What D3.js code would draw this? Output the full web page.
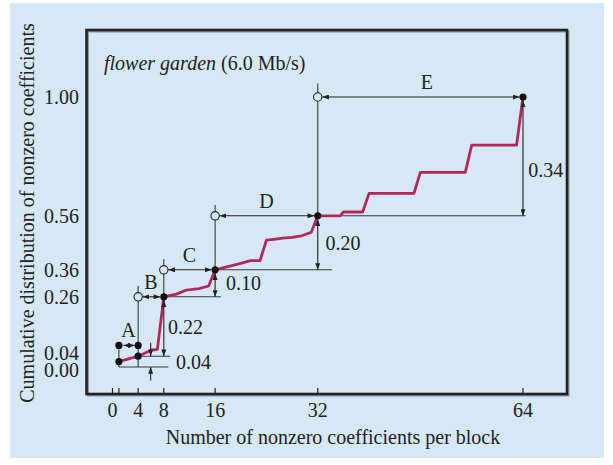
<!DOCTYPE html>
<html>
<head>
<meta charset="utf-8">
<script src="https://cdn.jsdelivr.net/npm/d3@7/dist/d3.min.js"></script>
<style>
  body { margin: 0; background: #fff; }
  text { font-family: "Liberation Serif", "Times New Roman", serif; fill: #222; }
</style>
</head>
<body>
<svg id="chart" width="613" height="465"></svg>
<script>
// Cumulative distribution curve
const coeffs = [1, 4, 6, 7, 8, 10, 11.5, 13.5, 15, 16, 18, 20, 21.5, 23, 24, 25.5, 26.5, 28, 29.5, 31, 32,
                35.5, 36, 39, 40, 47, 48, 55, 56, 63, 64];
const cumul  = [0.02, 0.04, 0.062, 0.065, 0.26, 0.27, 0.285, 0.29, 0.30, 0.36, 0.372, 0.384, 0.394, 0.394, 0.47,
                0.474, 0.477, 0.48, 0.486, 0.499, 0.56, 0.56, 0.574, 0.574, 0.643, 0.643, 0.721, 0.721, 0.822, 0.822, 1.00];

// Axis ticks
const xTicks = [0, 1, 4, 8, 16, 32, 64];
const xTickLabels = [0, 4, 8, 16, 32, 64];
const yTickLabels = [0.00, 0.04, 0.26, 0.36, 0.56, 1.00];

// Interval brackets A..E
const spanNames = ['A', 'B', 'C', 'D', 'E'];
const spanStart = [1, 4, 8, 16, 32];
const spanEnd   = [4, 8, 16, 32, 64];
const spanLevel = [0.08, 0.26, 0.36, 0.56, 1.00];
const spanLabelX = [2.5, 6, 12, 24, 49];
const spanOpen  = [false, true, true, true, true];

// Step heights
const stepLabels = ['0.22', '0.10', '0.20', '0.34'];
const stepX    = [8, 16, 32, 64];
const stepLow  = [0.04, 0.26, 0.36, 0.56];
const stepHigh = [0.26, 0.36, 0.56, 1.00];
const stepLabelX = [8.65, 17.7, 33.2, 64.8];
const stepLabelY = [0.15, 0.31, 0.46, 0.73];

// Guide (extension) lines
const guideHy  = [0.00, 0.04, 0.26, 0.36, 0.56];
const guideHx0 = [1, 4, 8, 16, 32];
const guideHx1 = [8.7, 9.0, 16.9, 34.2, 64.4];
const guideVx  = [1, 4, 8, 16, 32];
const guideVy0 = [0, 0, 0.26, 0.36, 0.56];
const guideVy1 = [0.08, 0.30, 0.40, 0.60, 1.05];

const bg = '#d6e8f6';
const ink = '#222';
const curveColor = '#b2285c';
const fontSize = '20px';

const svg = d3.select('#chart');

// background panel
svg.append('rect')
    .attr('x', 10).attr('y', 3)
    .attr('width', 594).attr('height', 455)
    .attr('fill', bg);

const x = d3.scaleLinear().domain([0, 64]).range([112.5, 523]);
const y = d3.scaleLinear().domain([0, 1]).range([367, 97]);

const frame = { left: 86.5, top: 30, right: 567, bottom: 394 };

// arrow marker
const defs = svg.append('defs');
defs.append('marker')
    .attr('id', 'arrow')
    .attr('viewBox', '0 0 8 6')
    .attr('refX', 8).attr('refY', 3)
    .attr('markerWidth', 7).attr('markerHeight', 5)
    .attr('markerUnits', 'userSpaceOnUse')
    .attr('orient', 'auto-start-reverse')
    .append('path')
    .attr('d', 'M0,0L8,3L0,6Z')
    .attr('fill', ink);

// frame with a faint shadow
svg.append('rect')
    .attr('x', frame.left + 1.5).attr('y', frame.top + 1.5)
    .attr('width', frame.right - frame.left)
    .attr('height', frame.bottom - frame.top)
    .attr('fill', 'none')
    .attr('stroke', '#8a96a0')
    .attr('stroke-width', 2);
svg.append('rect')
    .attr('x', frame.left).attr('y', frame.top)
    .attr('width', frame.right - frame.left)
    .attr('height', frame.bottom - frame.top)
    .attr('fill', 'none')
    .attr('stroke', ink)
    .attr('stroke-width', 2.6);

// x ticks (inside)
svg.append('g')
    .selectAll('line')
    .data(xTicks)
    .join('line')
    .attr('x1', d => x(d)).attr('x2', d => x(d))
    .attr('y1', frame.bottom).attr('y2', frame.bottom - 6)
    .attr('stroke', ink)
    .attr('stroke-width', 1.2);

svg.append('g')
    .selectAll('text')
    .data(xTickLabels)
    .join('text')
    .attr('x', d => x(d))
    .attr('y', 417)
    .attr('text-anchor', 'middle')
    .style('font-size', fontSize)
    .text(d => d);

// y labels: the two bottom ones sit close, spread them a little
svg.append('g')
    .selectAll('text')
    .data(yTickLabels)
    .join('text')
    .attr('x', 79)
    .attr('y', d => y(d) + (d === 0 ? 3 : d === 0.04 ? -3 : 0))
    .attr('dy', '0.35em')
    .attr('text-anchor', 'end')
    .style('font-size', fontSize)
    .text(d => d.toFixed(2));

// axis titles
svg.append('text')
    .attr('x', 333).attr('y', 444)
    .attr('text-anchor', 'middle')
    .style('font-size', fontSize)
    .text('Number of nonzero coefficients per block');

svg.append('text')
    .attr('transform', 'translate(34,213) rotate(-90)')
    .attr('text-anchor', 'middle')
    .style('font-size', fontSize)
    .text('Cumulative distribution of nonzero coefficients');

// title
const title = svg.append('text')
    .attr('x', 104).attr('y', 70)
    .style('font-size', fontSize);
title.append('tspan').style('font-style', 'italic').text('flower garden');
title.append('tspan').text(' (6.0 Mb/s)');

// guide lines
const guides = svg.append('g')
    .attr('stroke', '#3a3a3a')
    .attr('stroke-width', 1.1);
guides.selectAll('.gh')
    .data(guideHy)
    .join('line')
    .attr('class', 'gh')
    .attr('x1', (d, i) => x(guideHx0[i]))
    .attr('x2', (d, i) => x(guideHx1[i]))
    .attr('y1', d => y(d)).attr('y2', d => y(d));
guides.selectAll('.gv')
    .data(guideVx)
    .join('line')
    .attr('class', 'gv')
    .attr('x1', d => x(d)).attr('x2', d => x(d))
    .attr('y1', (d, i) => y(guideVy0[i]))
    .attr('y2', (d, i) => y(guideVy1[i]));

// curve
const line = d3.line()
    .x(d => x(d[0]))
    .y(d => y(d[1]));
svg.append('path')
    .datum(coeffs.map((c, i) => [c, cumul[i]]))
    .attr('d', line)
    .attr('fill', 'none')
    .attr('stroke', curveColor)
    .attr('stroke-width', 2.8)
    .attr('stroke-linejoin', 'round');

// span arrows
const spans = svg.append('g');
spans.selectAll('line')
    .data(spanNames)
    .join('line')
    .attr('x1', (d, i) => x(spanStart[i]) + 4.5)
    .attr('x2', (d, i) => x(spanEnd[i]) - 3.5)
    .attr('y1', (d, i) => y(spanLevel[i]))
    .attr('y2', (d, i) => y(spanLevel[i]))
    .attr('stroke', ink)
    .attr('stroke-width', 1.1)
    .attr('marker-start', 'url(#arrow)')
    .attr('marker-end', 'url(#arrow)');
spans.selectAll('text')
    .data(spanNames)
    .join('text')
    .attr('x', (d, i) => x(spanLabelX[i]))
    .attr('y', (d, i) => y(spanLevel[i]) - 8)
    .attr('text-anchor', 'middle')
    .style('font-size', fontSize)
    .text(d => d);

// step arrows
const steps = svg.append('g');
steps.selectAll('line')
    .data(stepLabels)
    .join('line')
    .attr('x1', (d, i) => x(stepX[i])).attr('x2', (d, i) => x(stepX[i]))
    .attr('y1', (d, i) => y(stepHigh[i]) + 3.5)
    .attr('y2', (d, i) => y(stepLow[i]))
    .attr('stroke', ink)
    .attr('stroke-width', 1.1)
    .attr('marker-start', 'url(#arrow)')
    .attr('marker-end', 'url(#arrow)');
steps.selectAll('text')
    .data(stepLabels)
    .join('text')
    .attr('x', (d, i) => x(stepLabelX[i]))
    .attr('y', (d, i) => y(stepLabelY[i]))
    .attr('dy', '0.35em')
    .style('font-size', fontSize)
    .text(d => d);

// 0.04 step with outside arrows
const smallX = 5.95;
svg.append('line')
    .attr('x1', x(smallX)).attr('x2', x(smallX))
    .attr('y1', y(0.09)).attr('y2', y(0.04))
    .attr('stroke', ink).attr('stroke-width', 1.1)
    .attr('marker-end', 'url(#arrow)');
svg.append('line')
    .attr('x1', x(smallX)).attr('x2', x(smallX))
    .attr('y1', y(-0.05)).attr('y2', y(0))
    .attr('stroke', ink).attr('stroke-width', 1.1)
    .attr('marker-end', 'url(#arrow)');
svg.append('text')
    .attr('x', x(9.9)).attr('y', y(0.02))
    .attr('dy', '0.35em')
    .style('font-size', fontSize)
    .text('0.04');

// open circles at span starts
svg.append('g')
    .selectAll('circle')
    .data(spanNames.filter((d, i) => spanOpen[i]))
    .join('circle')
    .attr('cx', d => x(spanStart[spanNames.indexOf(d)]))
    .attr('cy', d => y(spanLevel[spanNames.indexOf(d)]))
    .attr('r', 4.2)
    .attr('fill', bg)
    .attr('stroke', ink)
    .attr('stroke-width', 1.1);

// filled dots
const dots = spanNames.map((d, i) => [spanEnd[i], spanLevel[i]])
    .concat(spanNames.filter((d, i) => !spanOpen[i]).map(d => [spanStart[spanNames.indexOf(d)], spanLevel[spanNames.indexOf(d)]]))
    .concat([[coeffs[0], cumul[0]], [coeffs[1], cumul[1]]]);
svg.append('g')
    .selectAll('circle')
    .data(dots)
    .join('circle')
    .attr('cx', d => x(d[0]))
    .attr('cy', d => y(d[1]))
    .attr('r', 3.6)
    .attr('fill', '#111');
</script>
</body>
</html>
